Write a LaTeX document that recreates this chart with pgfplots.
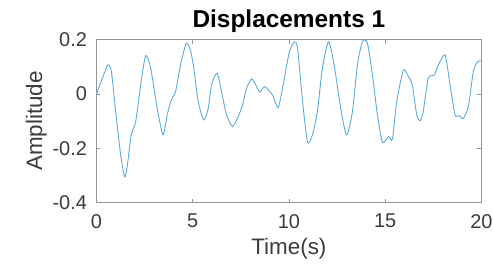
\documentclass[border=0pt]{standalone}
\usepackage{pgfplots}
\pgfplotsset{compat=1.18}
\usepackage{fontspec}
\setmainfont{Liberation Sans}
\definecolor{mblue}{RGB}{90,170,225}
\definecolor{axgray}{RGB}{150,150,150}
\definecolor{txt}{RGB}{60,60,60}
\begin{document}
\begin{tikzpicture}
\path[use as bounding box] (-96.4bp,-64.4bp) rectangle (396.6bp,202.6bp);
\begin{axis}[
  at={(0,0)}, anchor=south west,
  scale only axis,
  width=385bp, height=163bp,
  xmin=0, xmax=20, ymin=-0.4, ymax=0.2,
  xtick={0,5,10,15,20},
  ytick={-0.4,-0.2,0,0.2},
  yticklabels={-0.4,-0.2,0,0.2},
  tick align=inside,
  major tick length=4bp,
  axis line style={axgray, line width=0.8bp},
  every tick/.style={axgray, line width=0.8bp},
  tick label style={font=\fontsize{20}{24}\selectfont, text=txt},
  xticklabel style={yshift=-8bp},
  yticklabel style={xshift=-6bp},
  /pgf/number format/assume math mode=true,
  xlabel={Time(s)},
  ylabel={Amplitude},
  label style={font=\fontsize{22.5}{26}\selectfont, text=txt},
  xlabel style={yshift=-3bp},
  ylabel style={yshift=-1bp},
  title={\textbf{Displacements 1}},
  title style={font=\fontsize{24.5}{28}\selectfont, text=black, yshift=-2bp},
]
\addplot[mblue, line width=0.9bp, smooth, tension=0.4] coordinates {
(0.00,-0.001) (0.31,0.058) (0.60,0.107) (0.78,0.082) (1.00,-0.065)
(1.26,-0.225) (1.47,-0.305) (1.61,-0.262) (1.81,-0.151) (2.04,-0.102)
(2.30,0.033) (2.56,0.141) (2.82,0.095) (3.16,-0.053) (3.46,-0.151)
(3.68,-0.077) (3.89,-0.022) (4.11,0.008) (4.37,0.107) (4.66,0.185)
(4.85,0.170) (5.03,0.110) (5.29,-0.028) (5.58,-0.096) (5.81,-0.053)
(5.98,0.033) (6.27,0.076) (6.50,0.008) (6.76,-0.077) (7.07,-0.120)
(7.36,-0.084) (7.59,-0.041) (7.80,0.021) (8.06,0.055) (8.28,0.033)
(8.49,0.008) (8.75,0.027) (9.15,-0.004) (9.44,-0.050) (9.70,0.033)
(10.01,0.150) (10.27,0.192) (10.45,0.168) (10.71,-0.028) (10.97,-0.178)
(11.22,-0.151) (11.48,-0.065) (11.74,0.095) (12.06,0.192) (12.35,0.107)
(12.69,-0.053) (13.00,-0.151) (13.30,-0.065) (13.56,0.107) (13.82,0.193)
(14.08,0.187) (14.34,0.070) (14.60,-0.077) (14.86,-0.178) (15.17,-0.157)
(15.38,-0.166) (15.60,-0.028) (15.95,0.088) (16.21,0.064) (16.41,0.033)
(16.64,-0.077) (16.81,-0.099) (16.98,-0.065) (17.24,0.058) (17.56,0.070)
(17.73,0.101) (18.11,0.144) (18.37,0.033) (18.63,-0.077) (18.83,-0.080)
(19.06,-0.090) (19.32,-0.047) (19.58,0.082) (19.80,0.119) (20.00,0.122)
};
\end{axis}
\end{tikzpicture}
\end{document}
